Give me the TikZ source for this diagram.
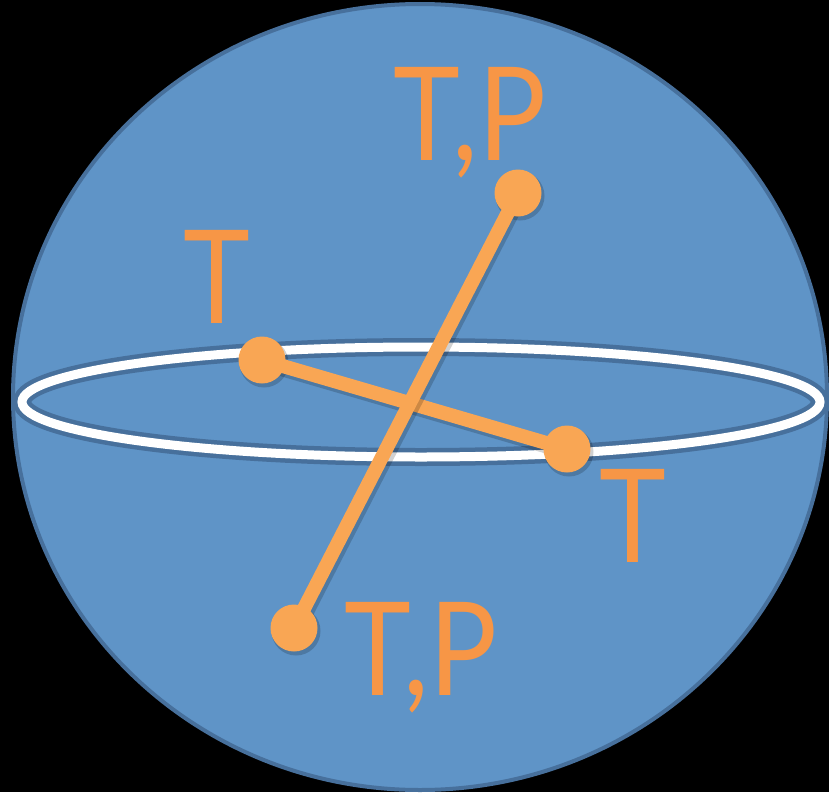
\documentclass[tikz,border=0pt]{standalone}
\usepackage{fontspec}
\setmainfont{Lato}
\definecolor{bgblack}{HTML}{000000}
\definecolor{sphere}{HTML}{5F94C7}
\definecolor{sphereedge}{HTML}{47709C}
\definecolor{ringwhite}{HTML}{FFFFFF}
\definecolor{stick}{HTML}{F9A654}
\definecolor{label}{HTML}{F79646}
\newcommand{\narrowtext}[1]{\scalebox{0.87}[1]{#1}}
\tikzset{
  stickline/.style={draw=stick, line width=14pt},
  stickshadow/.style={draw=black, opacity=0.18, line width=16pt},
  dotstyle/.style={circle, fill=stick, minimum size=47pt, inner sep=0pt},
  dotshadow/.style={circle, fill=black, opacity=0.18, minimum size=49pt, inner sep=0pt},
  lbl/.style={text=label, font=\fontsize{130}{130}\selectfont, inner sep=0pt, anchor=base},
}
\begin{document}
\begin{tikzpicture}[x=1pt,y=-1pt]
\fill[bgblack] (0,0) rectangle (829,792);
\useasboundingbox (0,0) rectangle (829,792);
% sphere
\draw[fill=sphere, draw=sphereedge, line width=4pt] (420,397) ellipse [x radius=407, y radius=393];
% ring
\draw[sphereedge, line width=18pt] (421,402) ellipse [x radius=399, y radius=55];
\draw[ringwhite, line width=9pt] (421,402) ellipse [x radius=399, y radius=55];
% dot coordinates
\coordinate (a) at (262,360);
\coordinate (b) at (567,449);
\coordinate (c) at (518,193);
\coordinate (d) at (294,628);
% shadows
\draw[stickshadow] ([shift={(2,3)}]a) -- ([shift={(2,3)}]b);
\node[dotshadow] at ([shift={(2,3)}]a) {};
\node[dotshadow] at ([shift={(2,3)}]b) {};
% shallow stick
\draw[stickline] (a) -- (b);
\node[dotstyle] (na) at (a) {};
\node[dotstyle] (nb) at (b) {};
% steep stick
\draw[stickshadow] ([shift={(2,3)}]c) -- ([shift={(2,3)}]d);
\node[dotshadow] at ([shift={(2,3)}]c) {};
\node[dotshadow] at ([shift={(2,3)}]d) {};
\draw[stickline] (c) -- (d);
\node[dotstyle] (nc) at (c) {};
\node[dotstyle] (nd) at (d) {};
% labels
\node[lbl] (l1) at (470,160) {\narrowtext{T,P}};
\node[lbl] (l2) at (217,323) {\narrowtext{T}};
\node[lbl] (l3) at (633,562) {\narrowtext{T}};
\node[lbl] (l4) at (421,695) {\narrowtext{T,P}};
\end{tikzpicture}
\end{document}
